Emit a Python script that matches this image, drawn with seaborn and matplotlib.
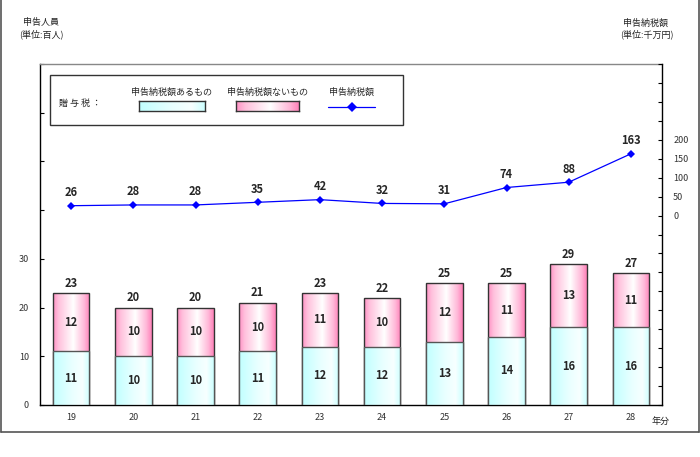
import numpy as np
import pandas as pd
import matplotlib
matplotlib.use("Agg")
import matplotlib.pyplot as plt
import seaborn as sns
from matplotlib.colors import LinearSegmentedColormap
from matplotlib.patches import Rectangle
from matplotlib.lines import Line2D
from matplotlib.ticker import MultipleLocator, FuncFormatter

# ---- data ----
years = ["19", "20", "21", "22", "23", "24", "25", "26", "27", "28"]
with_tax = [11, 10, 10, 11, 12, 12, 13, 14, 16, 16]      # 申告納税額あるもの (百人)
without_tax = [12, 10, 10, 10, 11, 10, 12, 11, 13, 11]   # 申告納税額ないもの (百人)
totals = [23, 20, 20, 21, 23, 22, 25, 25, 29, 27]
tax_amount = [26, 28, 28, 35, 42, 32, 31, 74, 88, 163]   # 申告納税額 (千万円)

sns.set_style("white")
plt.rcParams["font.family"] = ["Noto Sans CJK JP", "DejaVu Sans"]

W, H = 700, 457
fig = plt.figure(figsize=(7.0, 4.57), dpi=100)

def fx(px):
    return px / W

def fy(py):
    return 1 - py / H

ax = fig.add_axes([fx(40), fy(405), fx(662) - fx(40), fy(64) - fy(405)])

df = pd.DataFrame({"year": years, "lower": with_tax, "total": totals})
sns.barplot(data=df, x="year", y="total", color="#ff99cc", width=0.59,
            ax=ax, zorder=2)
n_top = len(ax.patches)
sns.barplot(data=df, x="year", y="lower", color="#ccffff", width=0.59,
            ax=ax, zorder=3)
top_patches = ax.patches[:n_top]
low_patches = ax.patches[n_top:]

pink_cmap = LinearSegmentedColormap.from_list(
    "pk", [(0, "#ff90c4"), (0.15, "#ffc0dc"), (0.55, "#ffffff"), (0.85, "#ffb8d8"), (1, "#ff80b8")])
cyan_cmap = LinearSegmentedColormap.from_list(
    "cy", [(0, "#c0ffff"), (0.5, "#e8ffff"), (0.8, "#f7ffff"), (1, "#ccffff")])
grad = np.linspace(0, 1, 256).reshape(1, -1)

for p in top_patches:
    x0, y0 = p.get_x(), p.get_y()
    w, h = p.get_width(), p.get_height()
    im = ax.imshow(grad, cmap=pink_cmap, aspect="auto",
                   extent=[x0, x0 + w, y0, y0 + h], zorder=2.1)
    im.set_clip_path(p)
    p.set_facecolor("none")
    p.set_edgecolor("#333333")
    p.set_linewidth(1.0)
    p.set_zorder(2.2)
for p in low_patches:
    x0, y0 = p.get_x(), p.get_y()
    w, h = p.get_width(), p.get_height()
    im = ax.imshow(grad, cmap=cyan_cmap, aspect="auto",
                   extent=[x0, x0 + w, y0, y0 + h], zorder=3.1)
    im.set_clip_path(p)
    p.set_facecolor("none")
    p.set_edgecolor("#555555")
    p.set_linewidth(1.0)
    p.set_zorder(3.2)

fs = 8
for i in range(len(years)):
    ax.text(i, with_tax[i] / 2, str(with_tax[i]), ha="center", va="center",
            fontsize=fs, fontweight="bold", zorder=5)
    ax.text(i, with_tax[i] + without_tax[i] / 2, str(without_tax[i]),
            ha="center", va="center", fontsize=fs, fontweight="bold", zorder=5)
    ax.annotate(str(totals[i]), (i, totals[i]), xytext=(0, 7),
                textcoords="offset points", ha="center", va="center",
                fontsize=fs, fontweight="bold", zorder=5)

ax.set_xlim(-0.5, len(years) - 0.5)
ax.set_ylim(0, 70)
ax.yaxis.set_major_locator(MultipleLocator(10))
ax.yaxis.set_major_formatter(FuncFormatter(lambda v, p: f"{int(v)}" if v <= 30 else ""))
ax.set_xlabel("")
ax.set_ylabel("")
ax.set_xticks(np.arange(len(years)))
ax.set_xticklabels(years)
ax.set_xticks(np.arange(len(years) - 1) + 0.5, minor=True)
ax.tick_params(axis="x", which="major", length=0, labelsize=6.5, pad=6, colors="#333333")
ax.tick_params(axis="x", which="minor", direction="in", length=3, color="black", width=0.8)
ax.tick_params(axis="y", direction="in", length=3, labelsize=6.5, pad=8,
               colors="black", labelcolor="#333333")

for s in ["left", "bottom"]:
    ax.spines[s].set_color("black")
    ax.spines[s].set_linewidth(1.0)
ax.spines["top"].set_color("#888888")
ax.spines["top"].set_linewidth(1.0)
ax.spines["right"].set_visible(False)

ax2 = ax.twinx()
idx = np.arange(len(years))
sns.lineplot(x=idx, y=tax_amount, ax=ax2, color="#0000ff", marker="D",
             markersize=4, markeredgewidth=0, linewidth=0.9, zorder=6)
ax2.set_ylim(-500, 400)
ax2.yaxis.set_major_locator(MultipleLocator(50))
ax2.yaxis.set_major_formatter(FuncFormatter(lambda v, p: f"{int(v)}" if 0 <= v <= 200 else ""))
ax2.tick_params(axis="y", direction="in", length=3, labelsize=6.5, pad=8,
                colors="black", labelcolor="#333333")
for s in ["left", "bottom", "top"]:
    ax2.spines[s].set_visible(False)
ax2.spines["right"].set_color("black")
ax2.spines["right"].set_linewidth(1.0)
ax2.set_ylabel("")
for i, v in enumerate(tax_amount):
    ax2.annotate(str(v), (i, v), xytext=(0, 9.5), textcoords="offset points",
                 ha="center", va="center", fontsize=fs, fontweight="bold")
ax2.set_xlim(-0.5, len(years) - 0.5)

# ---- titles / units ----
fig.text(fx(41), fy(23), "申告人員", ha="center", va="center", fontsize=6.5, color="#222222")
fig.text(fx(41), fy(34), "(単位:百人)", ha="center", va="center", fontsize=6.5, color="#222222")
fig.text(fx(645), fy(23), "申告納税額", ha="center", va="center", fontsize=6.5, color="#222222")
fig.text(fx(647), fy(34), "(単位:千万円)", ha="center", va="center", fontsize=6.5, color="#222222")
fig.text(fx(661), fy(421), "年分", ha="center", va="center", fontsize=6.5, color="#222222")

# ---- custom legend box ----
fig.add_artist(Rectangle((fx(50), fy(125)), fx(403) - fx(50), fy(75) - fy(125),
                         transform=fig.transFigure, facecolor="white",
                         edgecolor="#333333", linewidth=1.0, zorder=10))
fig.text(fx(80), fy(103), "贈 与 税 ：", ha="center", va="center", fontsize=6.5, zorder=11)
fig.text(fx(172), fy(92), "申告納税額あるもの", ha="center", va="center", fontsize=6.5, zorder=11)
fig.text(fx(268), fy(92), "申告納税額ないもの", ha="center", va="center", fontsize=6.5, zorder=11)
fig.text(fx(352), fy(92), "申告納税額", ha="center", va="center", fontsize=6.5, zorder=11)
leg_ax1 = fig.add_axes([fx(139), fy(111), fx(205) - fx(139), fy(101) - fy(111)], zorder=11)
leg_ax1.imshow(grad, cmap=cyan_cmap, aspect="auto")
leg_ax2 = fig.add_axes([fx(236), fy(111), fx(299) - fx(236), fy(101) - fy(111)], zorder=11)
leg_ax2.imshow(grad, cmap=pink_cmap, aspect="auto")
for la in (leg_ax1, leg_ax2):
    la.set_xticks([])
    la.set_yticks([])
    for s in la.spines.values():
        s.set_color("#333333")
        s.set_linewidth(1.0)
fig.add_artist(Line2D([fx(328), fx(375)], [fy(107), fy(107)], transform=fig.transFigure,
                      color="#0000ff", linewidth=0.9, zorder=12))
fig.add_artist(Line2D([fx(352)], [fy(107)], transform=fig.transFigure, color="#0000ff",
                      marker="D", markersize=5, markeredgewidth=0, zorder=12))

# ---- outer frame ----
for xs, ys in [([fx(1), fx(1)], [fy(0), fy(432)]),
               ([fx(1), fx(699)], [fy(432), fy(432)]),
               ([fx(699), fx(699)], [fy(432), fy(0)])]:
    fig.add_artist(Line2D(xs, ys, transform=fig.transFigure, color="#555555", linewidth=1.2))

fig.savefig("out.png", dpi=100)
